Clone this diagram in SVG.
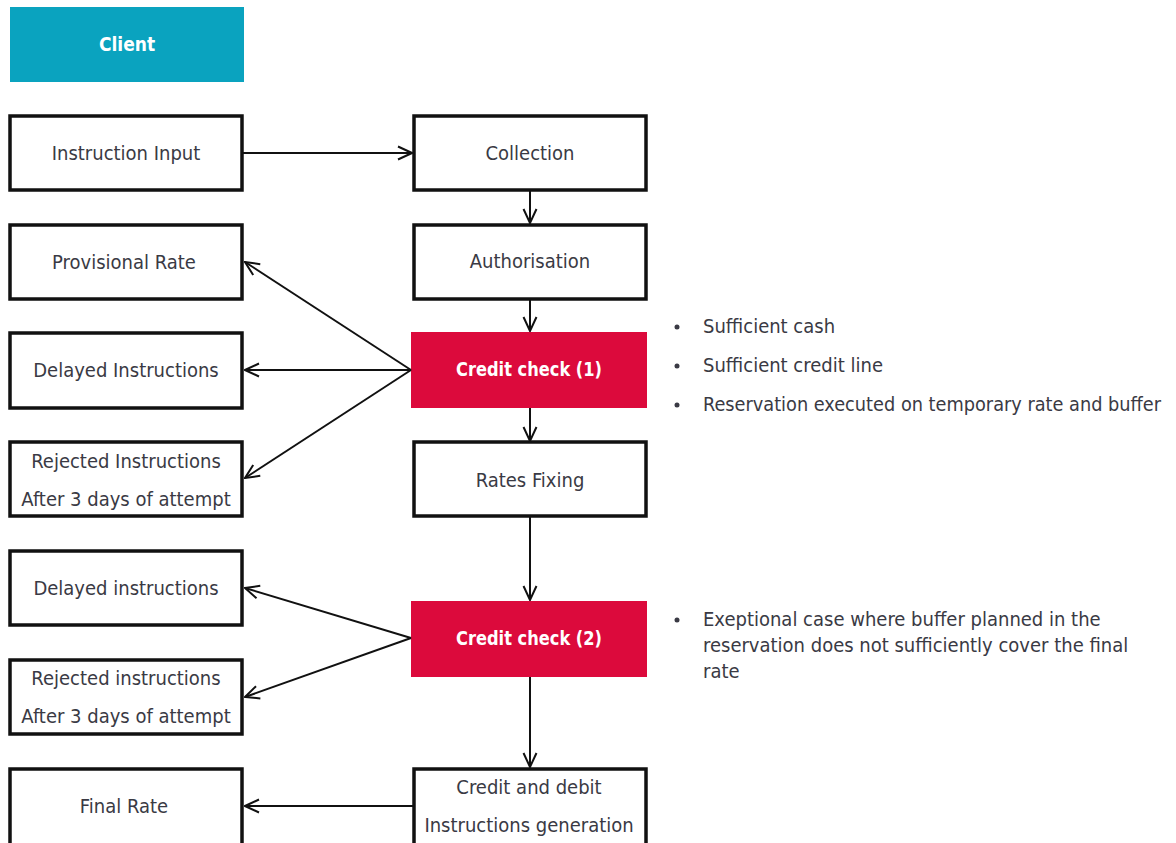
<svg xmlns="http://www.w3.org/2000/svg" width="1176" height="843" viewBox="0 0 1176 843">
<style>
.box{fill:#fff;stroke:#111;stroke-width:3.5}
.red{fill:#dc0a3c}
.t{font-family:"Liberation Sans Narrow","DejaVu Sans Condensed","Liberation Sans",Arial,sans-serif;font-size:20px;fill:#3a3a44;text-anchor:middle;dominant-baseline:central}
.w{fill:#fff;font-weight:bold;font-size:19px}
.n{font-family:"Liberation Sans Narrow","DejaVu Sans Condensed","Liberation Sans",Arial,sans-serif;font-size:20px;fill:#3a3a44;dominant-baseline:central}
.c{stroke:#111;stroke-width:2;fill:none;marker-end:url(#ah)}
</style>
<defs>
<marker id="ah" viewBox="0 0 16 16" refX="15" refY="8" markerWidth="16" markerHeight="16" markerUnits="userSpaceOnUse" orient="auto">
<path d="M1,1.5 L15,8 L1,14.5" fill="none" stroke="#111" stroke-width="2"/>
</marker>
</defs>
<rect width="1176" height="843" fill="#fff"/>

<g id="client">
<rect x="10" y="7" width="234" height="75" fill="#0aa3bf"/>
<text class="t w" x="127" y="44">Client</text>
</g>

<g id="instruction-input"><rect class="box" x="10" y="116" width="232" height="74"/><text class="t" x="126" y="153">Instruction Input</text></g>
<g id="provisional-rate"><rect class="box" x="10" y="225" width="232" height="74"/><text class="t" x="124" y="262">Provisional Rate</text></g>
<g id="delayed-1"><rect class="box" x="10" y="333" width="232" height="75"/><text class="t" x="126" y="370">Delayed Instructions</text></g>
<g id="rejected-1"><rect class="box" x="10" y="442" width="232" height="74"/><text class="t" x="126" y="461">Rejected Instructions</text><text class="t" x="126" y="499">After 3 days of attempt</text></g>
<g id="delayed-2"><rect class="box" x="10" y="551" width="232" height="74"/><text class="t" x="126" y="588">Delayed instructions</text></g>
<g id="rejected-2"><rect class="box" x="10" y="660" width="232" height="74"/><text class="t" x="126" y="678">Rejected instructions</text><text class="t" x="126" y="716">After 3 days of attempt</text></g>
<g id="final-rate"><rect class="box" x="10" y="769" width="232" height="80"/><text class="t" x="124" y="806">Final Rate</text></g>

<g id="collection"><rect class="box" x="414" y="116" width="232" height="74"/><text class="t" x="530" y="153">Collection</text></g>
<g id="authorisation"><rect class="box" x="414" y="225" width="232" height="74"/><text class="t" x="530" y="261">Authorisation</text></g>
<g id="credit-check-1"><rect class="red" x="411" y="332" width="236" height="76"/><text class="t w" x="529" y="369" textLength="146" lengthAdjust="spacingAndGlyphs">Credit check (1)</text></g>
<g id="rates-fixing"><rect class="box" x="414" y="442" width="232" height="74"/><text class="t" x="530" y="480">Rates Fixing</text></g>
<g id="credit-check-2"><rect class="red" x="411" y="601" width="236" height="76"/><text class="t w" x="529" y="638" textLength="146" lengthAdjust="spacingAndGlyphs">Credit check (2)</text></g>
<g id="credit-debit"><rect class="box" x="414" y="769" width="232" height="80"/><text class="t" x="529" y="787">Credit and debit</text><text class="t" x="529" y="825">Instructions generation</text></g>

<g id="connectors">
<line class="c" x1="243" y1="153" x2="412" y2="153"/>
<line class="c" x1="530" y1="190" x2="530" y2="223"/>
<line class="c" x1="530" y1="299" x2="530" y2="331"/>
<line class="c" x1="530" y1="408" x2="530" y2="441"/>
<line class="c" x1="530" y1="516" x2="530" y2="600"/>
<line class="c" x1="530" y1="677" x2="530" y2="767"/>
<line class="c" x1="411" y1="370" x2="245" y2="262"/>
<line class="c" x1="411" y1="370" x2="245" y2="370"/>
<line class="c" x1="411" y1="370" x2="245" y2="478"/>
<line class="c" x1="411" y1="638" x2="245" y2="588"/>
<line class="c" x1="411" y1="638" x2="245" y2="697"/>
<line class="c" x1="413" y1="806" x2="245" y2="806"/>
</g>

<g id="notes-1">
<circle cx="677" cy="327" r="2.5" fill="#3a3a44"/><text class="n" x="703" y="326">Sufficient cash</text>
<circle cx="677" cy="366" r="2.5" fill="#3a3a44"/><text class="n" x="703" y="365">Sufficient credit line</text>
<circle cx="677" cy="405" r="2.5" fill="#3a3a44"/><text class="n" x="703" y="404" textLength="458" lengthAdjust="spacingAndGlyphs">Reservation executed on temporary rate and buffer</text>
</g>
<g id="notes-2">
<circle cx="677" cy="620" r="2.5" fill="#3a3a44"/>
<text class="n" x="703" y="619">Exeptional case where buffer planned in the</text>
<text class="n" x="703" y="645">reservation does not sufficiently cover the final</text>
<text class="n" x="703" y="671">rate</text>
</g>
</svg>
